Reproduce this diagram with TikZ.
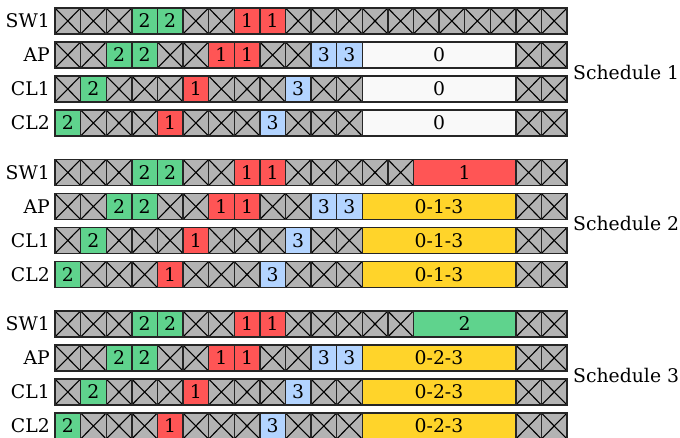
\documentclass[tikz,border=0pt]{standalone}
\usepackage{fontspec}
\setmainfont{DejaVu Serif}
\definecolor{cgray}{HTML}{B3B3B3}
\definecolor{cgreen}{HTML}{5FD38D}
\definecolor{cred}{HTML}{FF5555}
\definecolor{cblue}{HTML}{B3D4FF}
\definecolor{cyellow}{HTML}{FFD42A}
\definecolor{cwhite}{HTML}{F9F9F9}
\newcommand\lblfont{\fontsize{18.8}{20}\selectfont}
\tikzset{
  cellbase/.style={draw=black!85, line width=1.4pt, minimum height=26pt, inner sep=0pt, outer sep=0pt, anchor=west, font=\lblfont},
  cellX/.style={cellbase, fill=cgray, path picture={\draw[line width=1.1pt,black]
      (path picture bounding box.north west) -- (path picture bounding box.south east)
      (path picture bounding box.south west) -- (path picture bounding box.north east);}},
  cellG/.style={cellbase, fill=cgreen},
  cellR/.style={cellbase, fill=cred},
  cellB/.style={cellbase, fill=cblue},
  cellY/.style={cellbase, fill=cyellow},
  cellW/.style={cellbase, fill=cwhite},
  rowlbl/.style={anchor=east, font=\lblfont, inner sep=0pt},
  schlbl/.style={anchor=west, font=\lblfont, inner sep=0pt}
}
\newcommand\rowcells[3]{%
  \gdef\curx{0}%
  \foreach \st/\ln/\tx [count=\k] in {#3} {
    \node[\st, minimum width=\ln*25.6pt] (#1-\k) at (55+\curx*25.6, #2) {\tx};
    \pgfmathsetmacro\tmpx{\curx+\ln}\xdef\curx{\tmpx}
  }%
}
\begin{document}
\begin{tikzpicture}[x=1pt,y=-1pt]
\useasboundingbox (0,0) rectangle (680,438);
% ---------- Schedule 1 ----------
\node[rowlbl] (a-sw-l) at (50,21) {SW1};
\rowcells{a-sw}{21}{cellX/1/{},cellX/1/{},cellX/1/{},cellG/1/2,cellG/1/2,cellX/1/{},cellX/1/{},cellR/1/1,cellR/1/1,cellX/1/{},cellX/1/{},cellX/1/{},cellX/1/{},cellX/1/{},cellX/1/{},cellX/1/{},cellX/1/{},cellX/1/{},cellX/1/{},cellX/1/{}}
\node[rowlbl] (a-ap-l) at (50,55) {AP};
\rowcells{a-ap}{55}{cellX/1/{},cellX/1/{},cellG/1/2,cellG/1/2,cellX/1/{},cellX/1/{},cellR/1/1,cellR/1/1,cellX/1/{},cellX/1/{},cellB/1/3,cellB/1/3,cellW/6/0,cellX/1/{},cellX/1/{}}
\node[rowlbl] (a-c1-l) at (50,89) {CL1};
\rowcells{a-c1}{89}{cellX/1/{},cellG/1/2,cellX/1/{},cellX/1/{},cellX/1/{},cellR/1/1,cellX/1/{},cellX/1/{},cellX/1/{},cellB/1/3,cellX/1/{},cellX/1/{},cellW/6/0,cellX/1/{},cellX/1/{}}
\node[rowlbl] (a-c2-l) at (50,123) {CL2};
\rowcells{a-c2}{123}{cellG/1/2,cellX/1/{},cellX/1/{},cellX/1/{},cellR/1/1,cellX/1/{},cellX/1/{},cellX/1/{},cellB/1/3,cellX/1/{},cellX/1/{},cellX/1/{},cellW/6/0,cellX/1/{},cellX/1/{}}
\node[schlbl] (a-sch) at (573,72) {Schedule 1};
% ---------- Schedule 2 ----------
\node[rowlbl] (b-sw-l) at (50,172.5) {SW1};
\rowcells{b-sw}{172.5}{cellX/1/{},cellX/1/{},cellX/1/{},cellG/1/2,cellG/1/2,cellX/1/{},cellX/1/{},cellR/1/1,cellR/1/1,cellX/1/{},cellX/1/{},cellX/1/{},cellX/1/{},cellX/1/{},cellR/4/1,cellX/1/{},cellX/1/{}}
\node[rowlbl] (b-ap-l) at (50,206.5) {AP};
\rowcells{b-ap}{206.5}{cellX/1/{},cellX/1/{},cellG/1/2,cellG/1/2,cellX/1/{},cellX/1/{},cellR/1/1,cellR/1/1,cellX/1/{},cellX/1/{},cellB/1/3,cellB/1/3,cellY/6/0-1-3,cellX/1/{},cellX/1/{}}
\node[rowlbl] (b-c1-l) at (50,240.5) {CL1};
\rowcells{b-c1}{240.5}{cellX/1/{},cellG/1/2,cellX/1/{},cellX/1/{},cellX/1/{},cellR/1/1,cellX/1/{},cellX/1/{},cellX/1/{},cellB/1/3,cellX/1/{},cellX/1/{},cellY/6/0-1-3,cellX/1/{},cellX/1/{}}
\node[rowlbl] (b-c2-l) at (50,274.5) {CL2};
\rowcells{b-c2}{274.5}{cellG/1/2,cellX/1/{},cellX/1/{},cellX/1/{},cellR/1/1,cellX/1/{},cellX/1/{},cellX/1/{},cellB/1/3,cellX/1/{},cellX/1/{},cellX/1/{},cellY/6/0-1-3,cellX/1/{},cellX/1/{}}
\node[schlbl] (b-sch) at (573,223.5) {Schedule 2};
% ---------- Schedule 3 ----------
\node[rowlbl] (c-sw-l) at (50,324) {SW1};
\rowcells{c-sw}{324}{cellX/1/{},cellX/1/{},cellX/1/{},cellG/1/2,cellG/1/2,cellX/1/{},cellX/1/{},cellR/1/1,cellR/1/1,cellX/1/{},cellX/1/{},cellX/1/{},cellX/1/{},cellX/1/{},cellG/4/2,cellX/1/{},cellX/1/{}}
\node[rowlbl] (c-ap-l) at (50,358) {AP};
\rowcells{c-ap}{358}{cellX/1/{},cellX/1/{},cellG/1/2,cellG/1/2,cellX/1/{},cellX/1/{},cellR/1/1,cellR/1/1,cellX/1/{},cellX/1/{},cellB/1/3,cellB/1/3,cellY/6/0-2-3,cellX/1/{},cellX/1/{}}
\node[rowlbl] (c-c1-l) at (50,392) {CL1};
\rowcells{c-c1}{392}{cellX/1/{},cellG/1/2,cellX/1/{},cellX/1/{},cellX/1/{},cellR/1/1,cellX/1/{},cellX/1/{},cellX/1/{},cellB/1/3,cellX/1/{},cellX/1/{},cellY/6/0-2-3,cellX/1/{},cellX/1/{}}
\node[rowlbl] (c-c2-l) at (50,426) {CL2};
\rowcells{c-c2}{426}{cellG/1/2,cellX/1/{},cellX/1/{},cellX/1/{},cellR/1/1,cellX/1/{},cellX/1/{},cellX/1/{},cellB/1/3,cellX/1/{},cellX/1/{},cellX/1/{},cellY/6/0-2-3,cellX/1/{},cellX/1/{}}
\node[schlbl] (c-sch) at (573,375) {Schedule 3};
\end{tikzpicture}
\end{document}
